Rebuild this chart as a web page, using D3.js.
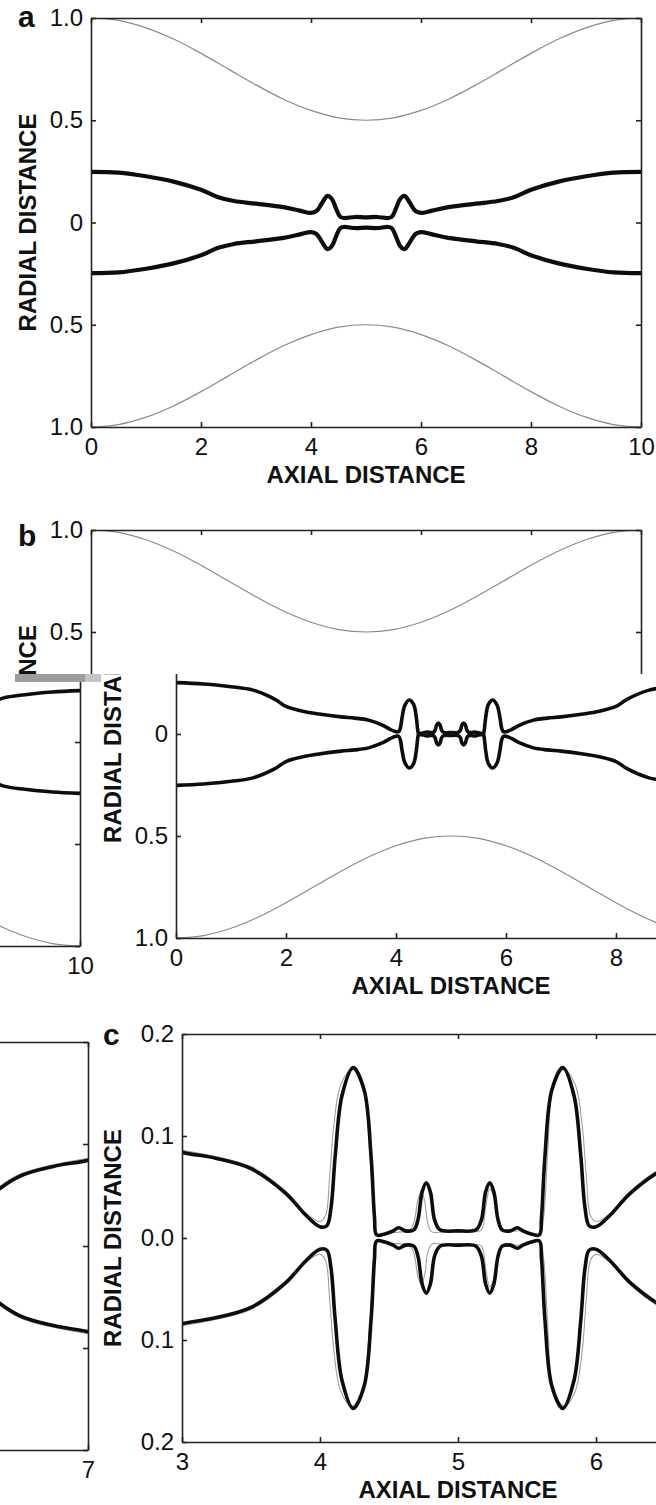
<!DOCTYPE html>
<html><head><meta charset="utf-8">
<script src="https://cdn.jsdelivr.net/npm/d3@7"></script>
<style>body{margin:0;background:#fff}svg{display:block}</style>
</head><body>
<svg id="chart" width="656" height="1505"></svg>
<script>
// ---- data ----
// tube wall (radius vs axial distance)
const wallX = [0,0.5,1,1.5,2,2.5,3,3.5,4,4.5,5,5.5,6,6.5,7,7.5,8,8.5,9,9.5,10];
const wallR = [1.0,0.988,0.952,0.897,0.827,0.75,0.673,0.603,0.548,0.512,0.5,0.512,0.548,0.603,0.673,0.75,0.827,0.897,0.952,0.988,1.0];
// panel a interface (upper branch)
const profileAX = [0,0.5,1,1.5,2,2.3,2.6,3,3.5,3.8,4.0,4.1,4.2,4.3,4.38,4.46,4.53,4.6,4.8,5.0,5.2,5.4,5.47,5.54,5.62,5.7,5.8,5.9,6.0,6.2,6.5,7,7.4,7.7,8,8.5,9,9.5,10];
const profileAR = [0.248,0.244,0.226,0.2,0.16,0.125,0.105,0.092,0.075,0.058,0.047,0.056,0.095,0.13,0.115,0.065,0.028,0.022,0.027,0.025,0.027,0.022,0.028,0.065,0.115,0.13,0.095,0.056,0.047,0.058,0.075,0.092,0.105,0.125,0.16,0.2,0.226,0.244,0.248];
// panels b & c interface (upper branch)
const profileBX = [0,0.5,1,1.4,1.8,2,2.3,2.6,3,3.25,3.5,3.75,3.9,4.0,4.05,4.08,4.11,4.16,4.24,4.32,4.37,4.395,4.41,4.47,4.53,4.57,4.62,4.68,4.71,4.74,4.77,4.8,4.83,4.87,5.0,5.13,5.17,5.2,5.23,5.26,5.29,5.32,5.38,5.43,5.47,5.53,5.59,5.605,5.63,5.68,5.76,5.84,5.89,5.92,5.95,6.0,6.1,6.25,6.5,6.75,7,7.4,7.7,8,8.2,8.6,9,9.5,10];
const profileBR = [0.252,0.245,0.232,0.215,0.17,0.135,0.112,0.098,0.084,0.078,0.068,0.044,0.022,0.011,0.012,0.03,0.08,0.14,0.167,0.145,0.08,0.02,0.003,0.004,0.007,0.010,0.007,0.008,0.018,0.045,0.054,0.045,0.018,0.008,0.007,0.008,0.018,0.045,0.054,0.045,0.018,0.008,0.007,0.010,0.007,0.004,0.003,0.02,0.08,0.145,0.167,0.14,0.08,0.03,0.012,0.011,0.022,0.044,0.068,0.078,0.084,0.098,0.112,0.135,0.17,0.215,0.232,0.245,0.252];
// panel c thin grey companion curve (upper branch)
const grayCX = [3,3.5,3.75,3.9,4.0,4.04,4.07,4.1,4.15,4.23,4.31,4.36,4.39,4.41,4.5,4.6,4.64,4.68,4.71,4.735,4.76,4.78,4.81,4.9,5.0,5.1,5.17,5.2,5.23,5.26,5.29,5.32,5.45,5.59,5.62,5.65,5.69,5.77,5.85,5.9,5.93,5.96,6.0,6.1,6.25,6.5,7];
const grayCR = [0.086,0.07,0.046,0.024,0.016,0.022,0.06,0.11,0.15,0.165,0.148,0.085,0.02,0.004,0.005,0.006,0.006,0.015,0.038,0.046,0.035,0.015,0.006,0.006,0.006,0.006,0.008,0.03,0.048,0.04,0.015,0.007,0.007,0.003,0.02,0.085,0.148,0.165,0.15,0.11,0.06,0.022,0.016,0.024,0.046,0.07,0.086];
// ticks
const ticksABX = [0,2,4,6,8,10];
const ticksABXLabels = ["0","2","4","6","8","10"];
const ticksABY = [1,0.5,0,-0.5,-1];
const ticksABYLabels = ["1.0","0.5","0","0.5","1.0"];
const ticksCX = [3,4,5,6,7];
const ticksCXLabels = ["3","4","5","6","7"];
const ticksCY = [0.2,0.1,0,-0.1,-0.2];
const ticksCYLabels = ["0.2","0.1","0.0","0.1","0.2"];

const zip = (xs, rs, s) => xs.map((x,i)=>[x, s*rs[i]]);
const svg = d3.select("#chart");
const defs = svg.append("defs");
let clipN = 0;
function clip(x, y, w, h){
  const id = "clip" + (clipN++);
  defs.append("clipPath").attr("id", id).attr("clipPathUnits","userSpaceOnUse")
    .append("rect").attr("x", x).attr("y", y).attr("width", w).attr("height", h);
  return "url(#" + id + ")";
}
const FONT = "'Liberation Sans', Arial, Helvetica, sans-serif";

function panel(g, c){
  const x = d3.scaleLinear().domain(c.xd).range([c.x0, c.x1]);
  const y = d3.scaleLinear().domain(c.yd).range([c.yb, c.yt]);
  const line = d3.line().x(d=>x(d[0])).y(d=>y(d[1])).curve(d3.curveCatmullRom.alpha(0.5));
  const plot = g.append("g").attr("clip-path", clip(c.x0, c.yt, c.x1-c.x0, c.yb-c.yt));
  if (c.wall){
    [1,-1].forEach(s=>plot.append("path").attr("d", line(zip(wallX, wallR, s)))
      .attr("fill","none").attr("stroke","#8a8a8a").attr("stroke-width",1.2));
  }
  if (c.gray){
    [1,-1].forEach(s=>plot.append("path").attr("d", line(zip(c.gray[0], c.gray[1], s)))
      .attr("fill","none").attr("stroke","#a0a0a0").attr("stroke-width",1.1));
  }
  [1,-1].forEach(s=>plot.append("path").attr("d", line(zip(c.prof[0], c.prof[1], s)))
    .attr("fill","none").attr("stroke","#0d0d0d").attr("stroke-width",c.lw)
    .attr("stroke-linejoin","round"));

  const style = a => {
    a.selectAll("path.domain").attr("stroke","#222").attr("stroke-width",1.6);
    a.selectAll("line").attr("stroke","#222").attr("stroke-width",1.6);
    a.selectAll("text").attr("fill","#111").style("font-family",FONT).style("font-size","24px");
    a.attr("font-size", null).attr("font-family", null);
  };
  g.append("g").attr("transform",`translate(0,${c.yb})`)
    .call(d3.axisBottom(x).tickValues(c.xt).tickFormat((d,i)=>c.xl[i]).tickSizeInner(-5).tickSizeOuter(0).tickPadding(11)).call(style);
  g.append("g").attr("transform",`translate(0,${c.yt})`)
    .call(d3.axisTop(x).tickValues(c.xt).tickFormat("").tickSizeInner(-5).tickSizeOuter(0)).call(style);
  g.append("g").attr("transform",`translate(${c.x0},0)`)
    .call(d3.axisLeft(y).tickValues(c.yt2).tickFormat((d,i)=>c.yl[i]).tickSizeInner(-5).tickSizeOuter(0).tickPadding(8)).call(style);
  g.append("g").attr("transform",`translate(${c.x1},0)`)
    .call(d3.axisRight(y).tickValues(c.yt2).tickFormat("").tickSizeInner(-5).tickSizeOuter(0)).call(style);

  g.append("text").attr("x", 18).attr("y", c.letterY).text(c.letter)
    .style("font-family",FONT).style("font-weight","bold").style("font-size","30px").attr("fill","#111");
  g.append("text").attr("transform",`translate(36,${(c.yt+c.yb)/2}) rotate(-90)`)
    .attr("text-anchor","middle").text("RADIAL DISTANCE")
    .style("font-family",FONT).style("font-weight","bold").style("font-size","24px").attr("fill","#111");
  g.append("text").attr("x",(c.x0+c.x1)/2).attr("y", c.yb+56).attr("text-anchor","middle").text("AXIAL DISTANCE")
    .style("font-family",FONT).style("font-weight","bold").style("font-size","24px").attr("fill","#111");
}

const cfgA = {x0:91,x1:641,yt:18,yb:427,xd:[0,10],yd:[-1,1],xt:ticksABX,xl:ticksABXLabels,yt2:ticksABY,yl:ticksABYLabels,
  wall:true,prof:[profileAX,profileAR],lw:4.2,letter:"a",letterY:27};
const cfgB = {x0:91,x1:641,yt:530,yb:938,xd:[0,10],yd:[-1,1],xt:ticksABX,xl:ticksABXLabels,yt2:ticksABY,yl:ticksABYLabels,
  wall:true,prof:[profileBX,profileBR],lw:3.6,letter:"b",letterY:546};
const cfgC = {x0:97,x1:649,yt:1034,yb:1442,xd:[3,7],yd:[-0.2,0.2],xt:ticksCX,xl:ticksCXLabels,yt2:ticksCY,yl:ticksCYLabels,
  gray:[grayCX,grayCR],prof:[profileBX,profileBR],lw:3.6,letter:"c",letterY:1045};

panel(svg.append("g"), cfgA);

// panel b, intact upper part
const up = svg.append("g").attr("clip-path", clip(0,0,656,674));
panel(up.append("g"), cfgB);

// shifted lower part (b bottom & c): rows shifted right by 85 px, wrap width 646, wrapped rows 8 px lower
const SHIFT = 85, WRAP = 646, DROP = 8;
const main = svg.append("g").attr("clip-path", clip(SHIFT,674,656-SHIFT,1505-674));
const mainIn = main.append("g").attr("transform",`translate(${SHIFT},0)`);
panel(mainIn.append("g"), cfgB);
panel(mainIn.append("g"), cfgC);

const wrap = svg.append("g").attr("clip-path", clip(0,682,97,1505-682));
const wrapIn = wrap.append("g").attr("transform",`translate(${SHIFT-WRAP},${DROP})`);
panel(wrapIn.append("g"), cfgB);
panel(wrapIn.append("g"), cfgC);

// glitch band
svg.append("rect").attr("x",15).attr("y",674).attr("width",70).attr("height",8).attr("fill","#9c9c9c");
svg.append("rect").attr("x",85).attr("y",674).attr("width",16).attr("height",8).attr("fill","#c4c4c4");
</script>
</body></html>
